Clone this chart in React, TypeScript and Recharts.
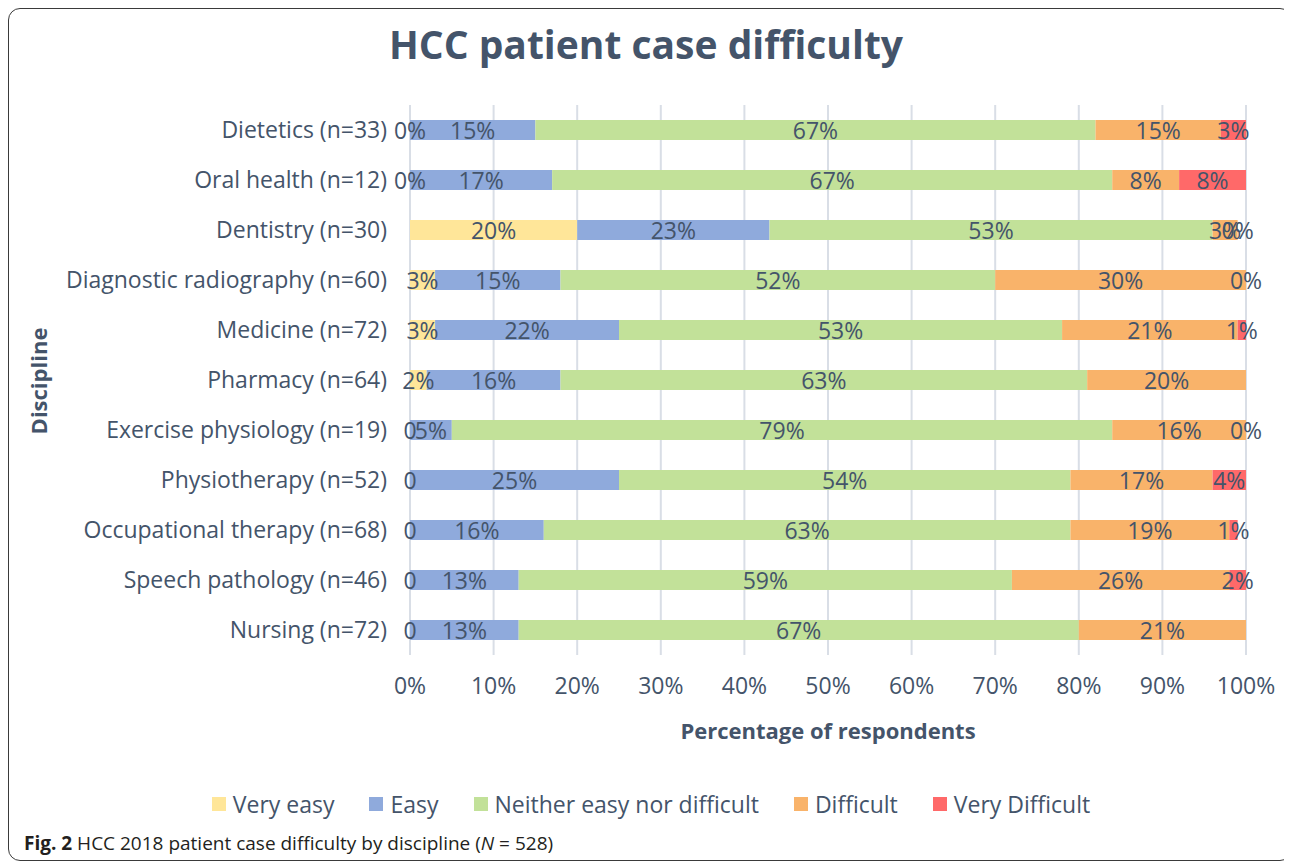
import React from 'react';
import { BarChart, Bar, XAxis, YAxis, CartesianGrid, LabelList } from 'recharts';

const disciplines = [
  'Dietetics (n=33)',
  'Oral health (n=12)',
  'Dentistry (n=30)',
  'Diagnostic radiography (n=60)',
  'Medicine (n=72)',
  'Pharmacy (n=64)',
  'Exercise physiology (n=19)',
  'Physiotherapy (n=52)',
  'Occupational therapy (n=68)',
  'Speech pathology (n=46)',
  'Nursing (n=72)',
];

const veryEasy = [0, 0, 20, 3, 3, 2, 0, 0, 0, 0, 0];
const easy = [15, 17, 23, 15, 22, 16, 5, 25, 16, 13, 13];
const neither = [67, 67, 53, 52, 53, 63, 79, 54, 63, 59, 67];
const difficult = [15, 8, 3, 30, 21, 20, 16, 17, 19, 26, 21];
const veryDifficult = [3, 8, 0, 0, 1, null, 0, 4, 1, 2, null];

// rows where a zero "very easy" shows as a bare "0"
const plainZero = [false, false, false, false, false, false, true, true, true, true, true];

const xTicks = [0, 10, 20, 30, 40, 50, 60, 70, 80, 90, 100];

const series = [
  { key: 'veryEasy', name: 'Very easy', color: '#FFE699' },
  { key: 'easy', name: 'Easy', color: '#8FAADC' },
  { key: 'neither', name: 'Neither easy nor difficult', color: '#C2E199' },
  { key: 'difficult', name: 'Difficult', color: '#F9B36A' },
  { key: 'veryDifficult', name: 'Very Difficult', color: '#FF6969' },
];

const data = disciplines.map((name, i) => ({
  name,
  veryEasy: veryEasy[i],
  easy: easy[i],
  neither: neither[i],
  difficult: difficult[i],
  veryDifficult: veryDifficult[i],
}));

const textColor = '#44546A';
const labelSize = 23;

const LabelText = ({ x, y, children }: { x: number; y: number; children: React.ReactNode }) => (
  <text x={x} y={y} textAnchor="middle" dominantBaseline="central" fill={textColor} fontSize={labelSize}>
    {children}
  </text>
);

// zero-width segments get no label from recharts, so their "0" labels
// are drawn at the edge of the neighbouring segment
const makeLabel = (key: string) => (props: any) => {
  const { x, y, width, height, value, index } = props;
  const bx = Number(x);
  const bw = Number(width);
  const cy = Number(y) + Number(height) / 2;
  const out: React.ReactNode[] = [];
  if (value !== null && value !== undefined && value !== 0) {
    out.push(<LabelText key="v" x={bx + bw / 2} y={cy}>{`${value}%`}</LabelText>);
  }
  if (key === 'easy' && veryEasy[index] === 0) {
    out.push(<LabelText key="z" x={bx} y={cy}>{plainZero[index] ? '0' : '0%'}</LabelText>);
  }
  if (key === 'difficult' && veryDifficult[index] === 0) {
    out.push(<LabelText key="z" x={bx + bw} y={cy}>0%</LabelText>);
  }
  return <g>{out}</g>;
};

export default function App() {
  return (
    <div
      style={{
        position: 'relative',
        width: 1284,
        height: 853,
        border: '1px solid #3a3a3a',
        borderRadius: 12,
        boxSizing: 'border-box',
        fontFamily: '"Open Sans", sans-serif',
        color: textColor,
        overflow: 'hidden',
      }}
    >
      <div
        style={{
          position: 'absolute',
          top: 8,
          left: 0,
          width: 1274,
          textAlign: 'center',
          fontSize: 39,
          fontWeight: 700,
        }}
      >
        HCC patient case difficulty
      </div>

      <div style={{ position: 'absolute', top: 0, left: 0 }}>
        <BarChart
          width={1274}
          height={700}
          data={data}
          layout="vertical"
          margin={{ top: 96, right: 37, left: 0, bottom: 0 }}
        >
          <CartesianGrid horizontal={false} stroke="#D9DEE6" strokeWidth={2} />
          <XAxis
            type="number"
            domain={[0, 100]}
            allowDataOverflow
            ticks={xTicks}
            tickFormatter={(v) => `${v}%`}
            axisLine={false}
            tickLine={false}
            tickMargin={17}
            height={54}
            tick={{ fontSize: 23, fill: textColor }}
          />
          <YAxis
            type="category"
            dataKey="name"
            width={401}
            axisLine={false}
            tickLine={false}
            tickMargin={17}
            tick={{ fontSize: 23, fill: textColor }}
          />
          {series.map((s) => (
            <Bar
              key={s.key}
              dataKey={s.key}
              stackId="a"
              fill={s.color}
              barSize={20}
              isAnimationActive={false}
            >
              <LabelList dataKey={s.key} content={makeLabel(s.key)} />
            </Bar>
          ))}
        </BarChart>
      </div>

      <div
        style={{
          position: 'absolute',
          top: 706,
          left: 401,
          width: 836,
          textAlign: 'center',
          fontSize: 22,
          fontWeight: 700,
        }}
      >
        Percentage of respondents
      </div>

      <div
        style={{
          position: 'absolute',
          left: 29,
          top: 372,
          transform: 'translate(-50%, -50%) rotate(-90deg)',
          fontSize: 22,
          fontWeight: 700,
          whiteSpace: 'nowrap',
        }}
      >
        Discipline
      </div>

      <div
        style={{
          position: 'absolute',
          top: 779,
          left: 0,
          width: 1284,
          display: 'flex',
          justifyContent: 'center',
          gap: 35,
          fontSize: 23,
        }}
      >
        {series.map((s) => (
          <div key={s.key} style={{ display: 'flex', alignItems: 'center', gap: 7 }}>
            <span style={{ width: 14, height: 14, background: s.color, display: 'inline-block' }} />
            <span>{s.name}</span>
          </div>
        ))}
      </div>

      <div
        style={{
          position: 'absolute',
          top: 821,
          left: 15,
          fontSize: 19,
          color: '#231F20',
          whiteSpace: 'nowrap',
        }}
      >
        <b>Fig. 2</b> HCC 2018 patient case difficulty by discipline (<i>N</i> = 528)
      </div>
    </div>
  );
}
